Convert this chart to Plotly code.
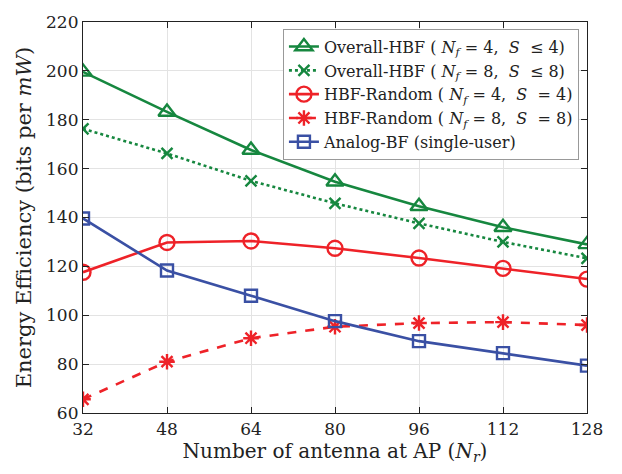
import plotly.graph_objects as go

antennas = [32, 48, 64, 80, 96, 112, 128]
overall_nf4 = [199.6, 183.2, 167.6, 154.6, 144.6, 136.0, 129.0]
overall_nf8 = [176.3, 166.2, 155.0, 145.8, 137.6, 130.0, 123.3]
random_nf4 = [117.6, 129.8, 130.4, 127.4, 123.4, 119.2, 114.8]
random_nf8 = [65.6, 81.0, 90.6, 95.3, 96.8, 97.2, 96.0]
analog_bf = [139.6, 118.3, 108.0, 97.6, 89.4, 84.5, 79.4]

NB = "\u00a0"
names = [
    f"Overall-HBF ({NB}<i>N<sub>f</sub></i>{NB}={NB}4,{NB}{NB}<i>S</i>{NB}{NB}≤{NB}4)",
    f"Overall-HBF ({NB}<i>N<sub>f</sub></i>{NB}={NB}8,{NB}{NB}<i>S</i>{NB}{NB}≤{NB}8)",
    f"HBF-Random ({NB}<i>N<sub>f</sub></i>{NB}={NB}4,{NB}{NB}<i>S</i>{NB}{NB}={NB}4)",
    f"HBF-Random ({NB}<i>N<sub>f</sub></i>{NB}={NB}8,{NB}{NB}<i>S</i>{NB}{NB}={NB}8)",
    "Analog-BF (single-user)",
]

GREEN = "#16873f"
RED = "#ee2228"
BLUE = "#3a50a4"
FONT = "DejaVu Serif"

fig = go.Figure()
series = [
    (overall_nf4, GREEN, "solid", "triangle-up-open", 15),
    (overall_nf8, GREEN, "dot", "x-thin-open", 11),
    (random_nf4, RED, "solid", "circle-open", 15),
    (random_nf8, RED, "dash", "asterisk-open", 13),
    (analog_bf, BLUE, "solid", "square-open", 12),
]
for (vals, col, dash, sym, sz), nm in zip(series, names):
    fig.add_trace(go.Scatter(
        x=antennas, y=vals, name=nm, mode="lines+markers",
        line=dict(color=col, width=2.6, dash=dash),
        marker=dict(symbol=sym, size=sz, color=col, line=dict(color=col, width=2.4)),
    ))

axis_common = dict(
    showline=True, linecolor="#222", linewidth=1.2, mirror="ticks",
    ticks="inside", ticklen=6, tickcolor="#222",
    showgrid=True, gridcolor="#e3e3e3", gridwidth=1, zeroline=False,
    tickfont=dict(family=FONT, size=17, color="#222"),
)
fig.update_xaxes(range=[32, 128], tickvals=antennas, **axis_common,
                 title=dict(text="Number of antenna at AP (<i>N<sub>r</sub></i>)",
                            font=dict(family=FONT, size=20, color="#222"), standoff=6))
fig.update_yaxes(range=[60, 220], tickvals=list(range(60, 221, 20)), **axis_common,
                 title=dict(text="Energy Efficiency (bits per <i>mW</i>)",
                            font=dict(family=FONT, size=21, color="#222"), standoff=8))

fig.update_layout(
    width=622, height=474,
    margin=dict(l=83, r=35, t=13, b=61),
    plot_bgcolor="white", paper_bgcolor="white",
    font=dict(family=FONT, color="#222"),
    legend=dict(x=0.984, y=0.983, xanchor="right", yanchor="top",
                bgcolor="white", bordercolor="#999", borderwidth=1,
                font=dict(family=FONT, size=16, color="#222"),
                itemwidth=30, tracegroupgap=0),
    showlegend=True,
)
fig.write_html("out.html")
